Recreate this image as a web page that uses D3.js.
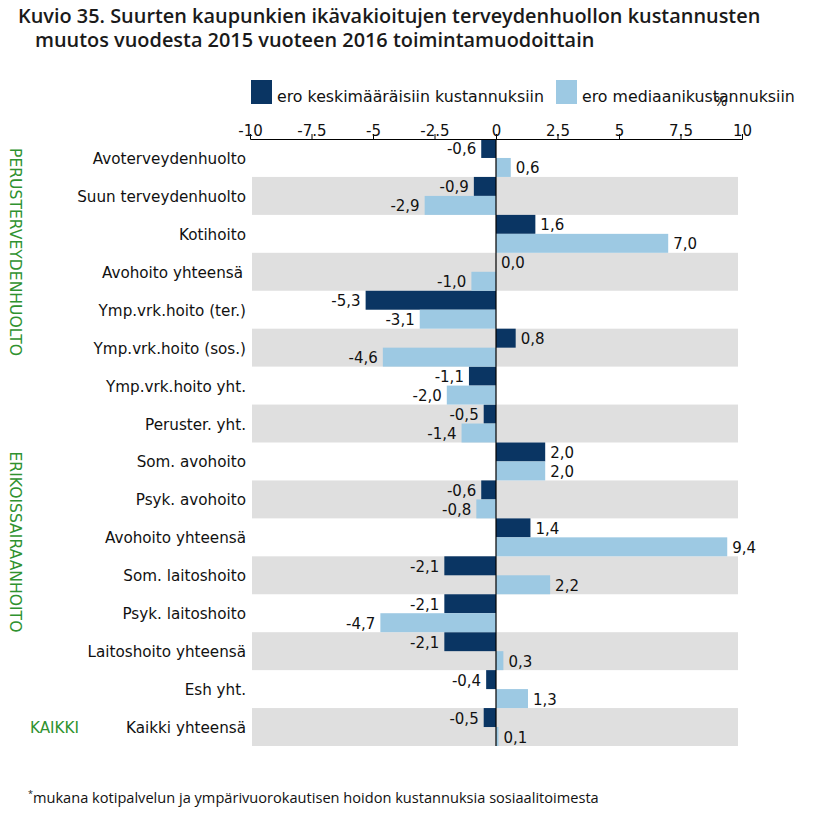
<!DOCTYPE html>
<html><head><meta charset="utf-8">
<script src="https://cdn.jsdelivr.net/npm/d3@7"></script>
<style>body{margin:0;background:#fff}</style>
</head><body>
<script>
const categories = ["Avoterveydenhuolto","Suun terveydenhuolto","Kotihoito","Avohoito yhteensä","Ymp.vrk.hoito (ter.)","Ymp.vrk.hoito (sos.)","Ymp.vrk.hoito yht.","Peruster. yht.","Som. avohoito","Psyk. avohoito","Avohoito yhteensä","Som. laitoshoito","Psyk. laitoshoito","Laitoshoito yhteensä","Esh yht.","Kaikki yhteensä"];
const seriesNames = ["ero keskimääräisiin kustannuksiin","ero mediaanikustannuksiin"];
const meanDiff = [-0.6,-0.9,1.6,0.0,-5.3,0.8,-1.1,-0.5,2.0,-0.6,1.4,-2.1,-2.1,-2.1,-0.4,-0.5];
const medianDiff = [0.6,-2.9,7.0,-1.0,-3.1,-4.6,-2.0,-1.4,2.0,-0.8,9.4,2.2,-4.7,0.3,1.3,0.1];
const tickValues = [-10,-7.5,-5,-2.5,0,2.5,5,7.5,10];
const groups = [{name:"PERUSTERVEYDENHUOLTO",from:0,vertical:true},{name:"ERIKOISSAIRAANHOITO",from:8,vertical:true},{name:"KAIKKI",from:15,vertical:false}];
const titleLines = ["Kuvio 35. Suurten kaupunkien ikävakioitujen terveydenhuollon kustannusten","muutos vuodesta 2015 vuoteen 2016 toimintamuodoittain"];
const footnote = "mukana kotipalvelun ja ympärivuorokautisen hoidon kustannuksia sosiaalitoimesta";

const W=828,H=819;
const colors=["#0a3563","#9dc9e3"];
const svg=d3.select("body").append("svg").attr("width",W).attr("height",H);
const font="DejaVu Sans, Verdana, sans-serif";
const idx=d3.range(categories.length);

const x=d3.scaleLinear().domain([-10,10]).range([250,742]);
const y=d3.scaleBand().domain(idx).range([139,746]).padding(0);
const inner=d3.scaleBand().domain([0,1]).range([0,y.bandwidth()]);

// title
svg.append("g").selectAll("text").data(titleLines).join("text")
  .attr("x",(d,i)=>i?35:18).attr("y",(d,i)=>23+i*24)
  .attr("font-family","Open Sans, sans-serif").attr("font-weight",600).attr("font-size",19.9)
  .attr("fill","#1a1a1a").text(d=>d);

// bands
svg.append("g").selectAll("rect").data(idx.filter(i=>i%2==1)).join("rect")
  .attr("x",252).attr("width",738-252).attr("y",i=>y(i)).attr("height",y.bandwidth()).attr("fill","#dfdfdf");

// bars
const data=[meanDiff,medianDiff];
data.forEach((vals,s)=>{
  const g=svg.append("g");
  g.selectAll("rect").data(vals).join("rect")
    .attr("x",v=>x(Math.min(0,v))).attr("width",v=>Math.abs(x(v)-x(0)))
    .attr("y",(v,i)=>y(i)+inner(s)).attr("height",inner.bandwidth())
    .attr("fill",colors[s]);
  g.selectAll("text").data(vals).join("text")
    .attr("x",v=>v<0?x(v)-5:x(v)+5).attr("text-anchor",v=>v<0?"end":"start")
    .attr("y",(v,i)=>y(i)+inner(s)+inner.bandwidth()/2+6)
    .attr("font-family",font).attr("font-size",15).attr("fill","#111")
    .text(v=>v.toFixed(1).replace(".",","));
});

// zero line
svg.append("line").attr("x1",x(0)).attr("x2",x(0)).attr("y1",139).attr("y2",746).attr("stroke","#000").attr("stroke-width",1.2);

// axis
const ax=svg.append("g").attr("transform","translate(0,139)")
  .call(d3.axisTop(x).tickValues(tickValues).tickSize(5).tickFormat(d=>String(d)));
ax.select(".domain").attr("stroke","#000");
ax.selectAll("text").attr("font-family",font).attr("font-size",15).attr("fill","#111").attr("dy",0).attr("y",-3);
svg.append("text").attr("x",714).attr("y",106).attr("font-family",font).attr("font-size",14).attr("fill","#111").text("%");

// category labels
svg.append("g").selectAll("text").data(idx).join("text")
  .attr("x",i=>i===3?243:246).attr("y",i=>y(i)+y.bandwidth()/2+6).attr("text-anchor","end")
  .attr("font-family",font).attr("font-size",15.2).attr("fill","#111").text(i=>categories[i]);

// group labels
groups.forEach(gr=>{
  if(gr.vertical){
    const y0=y(gr.from)+9;
    svg.append("text").attr("transform",`translate(10,${y0}) rotate(90)`)
      .attr("font-family",font).attr("font-size",15.6).attr("fill","#2f922f").text(gr.name);
  } else {
    svg.append("text").attr("x",30).attr("y",y(gr.from)+y.bandwidth()/2+6)
      .attr("font-family",font).attr("font-size",15.2).attr("fill","#2f922f").text(gr.name);
  }
});

// legend
const lx=[251,556];
seriesNames.forEach((n,i)=>{
  svg.append("rect").attr("x",lx[i]).attr("y",80).attr("width",21).attr("height",24).attr("fill",colors[i]);
  svg.append("text").attr("x",lx[i]+26).attr("y",102).attr("font-family",font).attr("font-size",15.8).attr("fill","#111").text(n);
});

// footnote
const fn=svg.append("text").attr("x",28).attr("y",803).attr("font-family","Open Sans, sans-serif").attr("font-size",14.6).attr("fill","#111");
fn.append("tspan").attr("font-size",9).attr("dy",-6).text("*");
fn.append("tspan").attr("dy",6).text(footnote);
</script>
</body></html>
